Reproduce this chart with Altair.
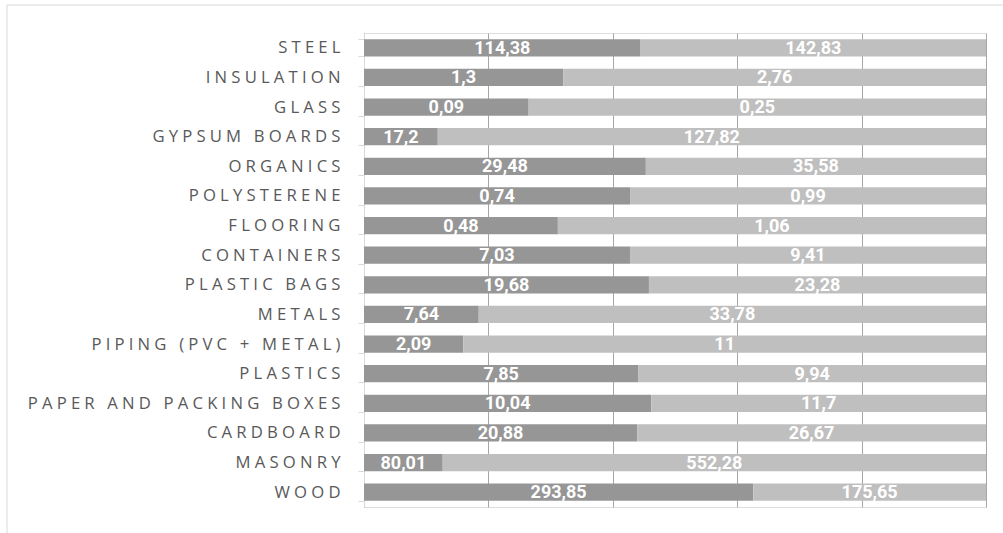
import altair as alt
import pandas as pd

categories = ["STEEL", "INSULATION", "GLASS", "GYPSUM BOARDS", "ORGANICS", "POLYSTERENE",
              "FLOORING", "CONTAINERS", "PLASTIC BAGS", "METALS", "PIPING (PVC + METAL)",
              "PLASTICS", "PAPER AND PACKING BOXES", "CARDBOARD", "MASONRY", "WOOD"]
series_a = [114.38, 1.3, 0.09, 17.2, 29.48, 0.74, 0.48, 7.03, 19.68, 7.64, 2.09,
            7.85, 10.04, 20.88, 80.01, 293.85]
series_b = [142.83, 2.76, 0.25, 127.82, 35.58, 0.99, 1.06, 9.41, 23.28, 33.78, 11,
            9.94, 11.7, 26.67, 552.28, 175.65]
series_names = ["A", "B"]
grid_ticks = [0, 0.2, 0.4, 0.6, 0.8, 1.0]

rows = []
for c, a, b in zip(categories, series_a, series_b):
    tot = a + b
    rows.append({"cat": c, "series": "A", "order": 0, "value": a,
                 "start": 0.0, "end": a / tot,
                 "label": f"{a:g}".replace(".", ",")})
    rows.append({"cat": c, "series": "B", "order": 1, "value": b,
                 "start": a / tot, "end": 1.0,
                 "label": f"{b:g}".replace(".", ",")})
df = pd.DataFrame(rows)
df["mid"] = (df["start"] + df["end"]) / 2

W, H = 622, 474
SP = "\u2005"  # letter spacing for the category labels

y_enc = alt.Y("cat:N", sort=categories, title=None,
              scale=alt.Scale(paddingInner=0.42, paddingOuter=0.21),
              axis=alt.Axis(labelFont="Open Sans", labelFontSize=16.7, labelColor="#595959",
                            labelExpr=f"join(split(datum.label, ''), '{SP}')",
                            labelPadding=18, tickBand="extent", tickSize=6,
                            tickColor="#d9d9d9", domainColor="#d9d9d9", labelLimit=400))

bars = alt.Chart(df).mark_bar().encode(
    y=y_enc,
    x=alt.X("start:Q", scale=alt.Scale(domain=[0, 1], nice=False), title=None,
            axis=alt.Axis(values=grid_ticks, labels=False, ticks=False, domain=False,
                          grid=True, gridColor="#a6a6a6", gridWidth=1)),
    x2="end:Q",
    color=alt.Color("series:N", scale=alt.Scale(domain=series_names,
                                                range=["#969696", "#bfbfbf"]),
                    legend=None),
)

text = alt.Chart(df).mark_text(color="white", fontWeight="bold", fontSize=18,
                               font="Roboto", baseline="middle",
                               dy=1).encode(
    y=alt.Y("cat:N", sort=categories),
    x=alt.X("mid:Q"),
    text="label:N",
)

frame = alt.Chart(pd.DataFrame({"k": [0]})).mark_rule(color="#d9d9d9", strokeWidth=1).encode(
    x=alt.value(-357), x2=alt.value(-357), y=alt.value(-28), y2=alt.value(H + 40))
frame_top = alt.Chart(pd.DataFrame({"k": [0]})).mark_rule(color="#d9d9d9", strokeWidth=1).encode(
    x=alt.value(-357), x2=alt.value(W + 40), y=alt.value(-28), y2=alt.value(-28))

chart = alt.layer(bars, text, frame, frame_top).properties(
    width=W, height=H,
    padding={"left": 364, "top": 33, "right": 17, "bottom": 26},
    autosize=alt.AutoSizeParams(type="none"),
).configure_view(stroke=None).configure(background="white")

chart.save("out.html", embed_options={"renderer": "svg", "actions": False})
